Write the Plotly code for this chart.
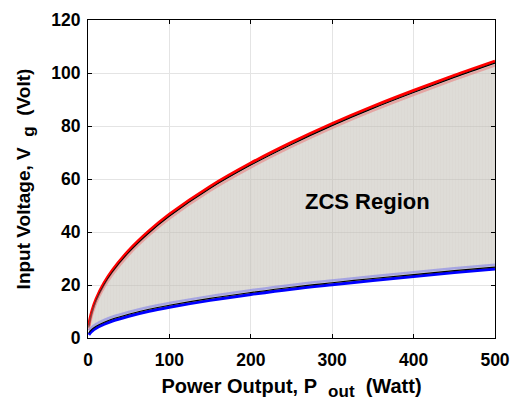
import plotly.graph_objects as go

# Output power (W) and boundary input voltages (V) of the ZCS operating region
p_out = [1, 2, 5, 10, 20, 30, 50, 75, 100, 150, 200, 250, 300, 350, 400, 450, 500]
vg_upper = [4.7, 6.6, 10.4, 14.8, 20.9, 25.6, 33.0, 40.4, 46.7, 57.2, 66.0, 73.8,
            80.9, 87.4, 93.4, 99.1, 104.5]
vg_lower = [1.2, 1.6, 2.6, 3.7, 5.2, 6.4, 8.2, 10.1, 11.6, 14.2, 16.4, 18.4,
            20.1, 21.7, 23.2, 24.7, 26.0]

x_ticks = [0, 100, 200, 300, 400, 500]
y_ticks = [0, 20, 40, 60, 80, 100, 120]
region_label = "ZCS Region"

FONT = "Liberation Sans"
SUB = "<sub><span style='font-size:17px'>{}</span></sub>"
fig = go.Figure()

# shaded region between the two boundaries
fig.add_trace(go.Scatter(
    x=p_out + p_out[::-1], y=vg_lower + vg_upper[::-1],
    fill="toself", mode="lines", line=dict(width=0),
    fillcolor="rgba(190,185,175,0.5)",
    fillpattern=dict(shape="|", size=3, solidity=0.2,
                     fgcolor="rgba(180,175,165,0.25)", bgcolor="rgba(190,185,175,0.5)",
                     fillmode="overlay"),
    hoverinfo="skip", showlegend=False))

# soft edges of the shaded patch (drawn on slightly offset overlay axes)
fig.add_trace(go.Scatter(x=p_out, y=vg_upper, mode="lines", yaxis="y3",
                         line=dict(color="rgba(235,120,120,0.55)", width=2.5, shape="spline"),
                         showlegend=False))
fig.add_trace(go.Scatter(x=p_out, y=vg_lower, mode="lines", yaxis="y4",
                         line=dict(color="rgba(120,120,235,0.55)", width=2.5, shape="spline"),
                         showlegend=False))
# thin black outlines
fig.add_trace(go.Scatter(x=p_out, y=vg_upper, mode="lines", yaxis="y2",
                         line=dict(color="black", width=1.2, shape="spline"),
                         showlegend=False))
fig.add_trace(go.Scatter(x=p_out, y=vg_lower, mode="lines", yaxis="y5",
                         line=dict(color="black", width=1.2, shape="spline"),
                         showlegend=False))
# boundary curves
fig.add_trace(go.Scatter(x=p_out, y=vg_upper, mode="lines",
                         line=dict(color="#ff0000", width=3, shape="spline"),
                         showlegend=False))
fig.add_trace(go.Scatter(x=p_out, y=vg_lower, mode="lines",
                         line=dict(color="#0000ff", width=3, shape="spline"),
                         showlegend=False))

fig.add_annotation(x=343, y=51.5, text=f"<b>{region_label}</b>", showarrow=False,
                   font=dict(family=FONT, size=22, color="black"))

axis_common = dict(showline=True, linecolor="black", linewidth=1, mirror="ticks",
                   ticks="inside", ticklen=4, tickcolor="black",
                   showgrid=True, gridcolor="rgb(228,228,228)", gridwidth=1,
                   zeroline=False, automargin=False,
                   tickfont=dict(family=FONT, size=17.5, color="black", weight="bold"))

def shifted(d):
    return dict(overlaying="y", range=[d, 120 + d], visible=False, fixedrange=True)

fig.update_layout(
    width=512, height=401,
    margin=dict(l=88, r=17, t=20, b=63),
    paper_bgcolor="white", plot_bgcolor="white",
    xaxis=dict(range=[0, 500], tickvals=x_ticks, ticklabelstandoff=6, **axis_common,
               title=dict(text="<b>Power Output, P&nbsp; " + SUB.format("out") + "&nbsp; (Watt)</b>",
                          font=dict(family=FONT, size=20, color="black"), standoff=14)),
    yaxis=dict(range=[0, 120], tickvals=y_ticks, ticklabelstandoff=3, **axis_common,
               title=dict(text="<b>Input Voltage, V&nbsp; " + SUB.format("g") + "&nbsp; (Volt)</b>",
                          font=dict(family=FONT, size=19, color="black"), standoff=15)),
    yaxis2=shifted(0.75),
    yaxis3=shifted(1.6),
    yaxis4=shifted(-1.6),
    yaxis5=shifted(-0.75),
)

fig.write_html("out.html")
